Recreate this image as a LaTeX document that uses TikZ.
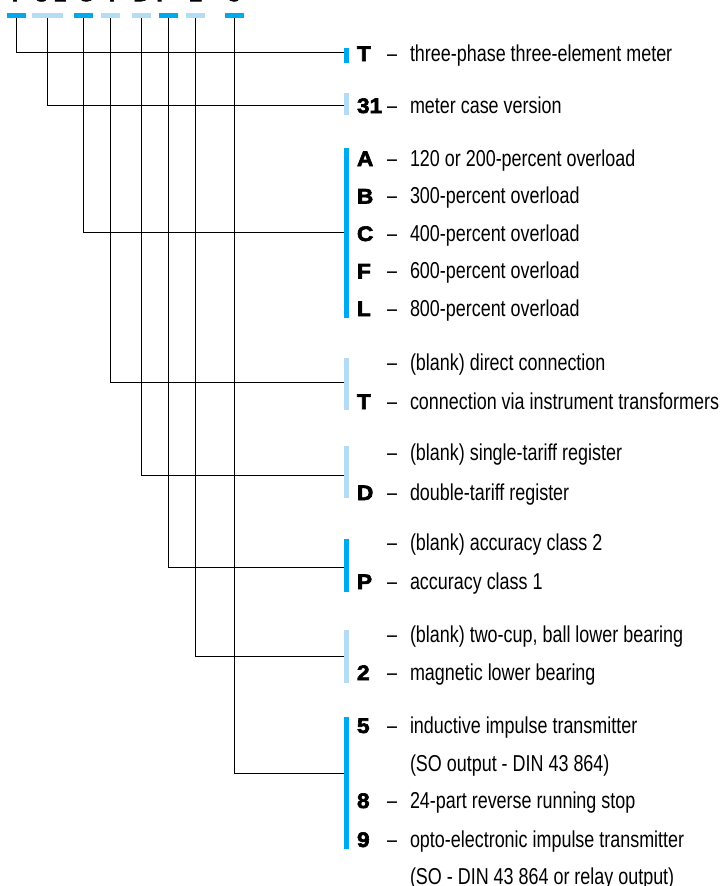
\documentclass[tikz,border=0pt]{standalone}
\usepackage{fontspec}
\setmainfont{Liberation Sans}[FakeStretch=0.78]
\newfontfamily\codefont{Liberation Sans}[FakeStretch=1.08,BoldFeatures={FakeBold=3}]
\definecolor{dblue}{HTML}{00A8EC}
\definecolor{lblue}{HTML}{B4DDF5}
\begin{document}
\begin{tikzpicture}[x=1pt,y=-1pt,
  desc/.style={anchor=base west,inner sep=0pt,outer sep=0pt,font=\fontsize{23}{27}\selectfont},
  code/.style={anchor=base west,inner sep=0pt,outer sep=0pt,font=\codefont\bfseries\fontsize{21}{25}\selectfont},
  topcode/.style={anchor=base,inner sep=0pt,outer sep=0pt,font=\codefont\bfseries\fontsize{21}{25}\selectfont},
  tbar/.style={inner sep=0pt,outer sep=0pt,minimum height=5pt,minimum width=19pt},
  rbar/.style={anchor=north,inner sep=0pt,outer sep=0pt,minimum width=5pt},
  conn/.style={line width=1pt,black}]
\useasboundingbox (0,0) rectangle (723,886);
% cut-off code at the top
\foreach \c/\x [count=\i] in {T/15,3/41.5,1/60,C/86,T/112,D/141.5,P/164,2/196,5/234}
  \node[topcode] (top\i) at (\x,1.2) {\c};
% top bars
\node[tbar,fill=dblue] (t1) at (16.5,15.5) {};
\node[tbar,fill=lblue,minimum width=31pt] (t2) at (47.5,15.5) {};
\node[tbar,fill=dblue] (t3) at (83.5,15.5) {};
\node[tbar,fill=lblue] (t4) at (110.5,15.5) {};
\node[tbar,fill=lblue] (t5) at (141.5,15.5) {};
\node[tbar,fill=dblue] (t6) at (168.5,15.5) {};
\node[tbar,fill=lblue] (t7) at (195.5,15.5) {};
\node[tbar,fill=dblue] (t8) at (234.5,15.5) {};
% right bars
\node[rbar,fill=dblue,minimum height=15pt] (r1) at (346.5,48) {};
\node[rbar,fill=lblue,minimum height=22pt] (r2) at (346.5,93) {};
\node[rbar,fill=dblue,minimum height=170pt] (r3) at (346.5,148) {};
\node[rbar,fill=lblue,minimum height=52pt] (r4) at (346.5,358) {};
\node[rbar,fill=lblue,minimum height=52pt] (r5) at (346.5,446) {};
\node[rbar,fill=dblue,minimum height=53pt] (r6) at (346.5,539) {};
\node[rbar,fill=lblue,minimum height=53pt] (r7) at (346.5,630) {};
\node[rbar,fill=dblue,minimum height=132pt] (r8) at (346.5,717) {};
% connector end points on the bars
\coordinate (h1) at (344,52);
\coordinate (h2) at (344,105);
\coordinate (h3) at (344,232);
\coordinate (h4) at (344,382);
\coordinate (h5) at (344,475);
\coordinate (h6) at (344,567);
\coordinate (h7) at (344,656);
\coordinate (h8) at (344,773);
\foreach \i in {1,...,8}
  \draw[conn] (t\i.south) |- (h\i);
% texts
\newcommand{\row}[4]{%
  \node[code] (c#1) at (357,#2) {#3};
  \node[desc] (d#1) at (387,#2) {–};
  \node[desc] (x#1) at (410,#2) {#4};}
\row{1}{61}{T}{three-phase three-element meter}
\row{2}{113}{31}{meter case version}
\row{3}{166}{A}{120 or 200-percent overload}
\row{4}{203.5}{B}{300-percent overload}
\row{5}{241}{C}{400-percent overload}
\row{6}{278.5}{F}{600-percent overload}
\row{7}{316}{L}{800-percent overload}
\row{8}{370}{}{(blank) direct connection}
\row{9}{409}{T}{connection via instrument transformers}
\row{10}{460}{}{(blank) single-tariff register}
\row{11}{500}{D}{double-tariff register}
\row{12}{550}{}{(blank) accuracy class 2}
\row{13}{589}{P}{accuracy class 1}
\row{14}{642}{}{(blank) two-cup, ball lower bearing}
\row{15}{680}{2}{magnetic lower bearing}
\row{16}{733}{5}{inductive impulse transmitter}
\node[desc] (x17) at (410,771) {(SO output - DIN 43 864)};
\row{18}{808}{8}{24-part reverse running stop}
\row{19}{847}{9}{opto-electronic impulse transmitter}
\node[desc] (x20) at (410,884) {(SO - DIN 43 864 or relay output)};
\end{tikzpicture}
\end{document}
